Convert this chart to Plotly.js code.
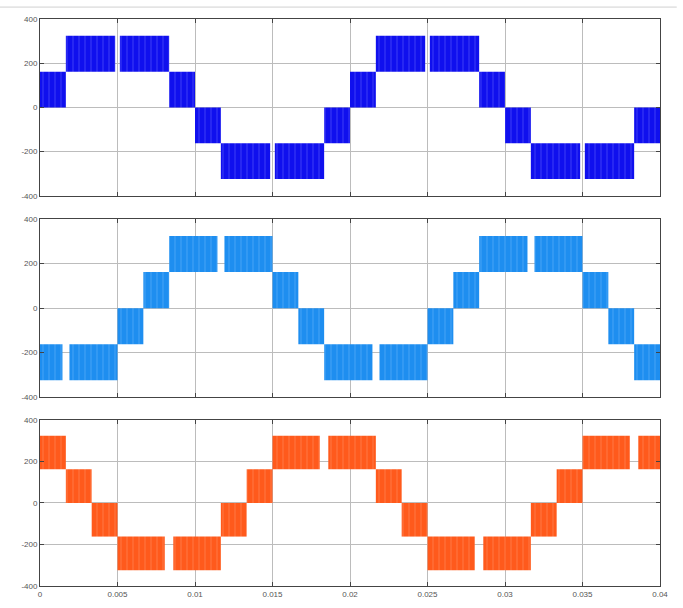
<!DOCTYPE html>
<html>
<head>
<meta charset="utf-8">
<script src="https://cdn.plot.ly/plotly-3.0.1.min.js"></script>
<style>html,body{margin:0;padding:0;background:#fff;}#chart{width:683px;height:608px;}</style>
</head>
<body>
<div id="chart"></div>
<script>
// Band segments of the PWM staircase waveforms (time in seconds, voltage levels)
var phaseA_start = [0, 0.001667, 0.00515, 0.008333, 0.01, 0.011667, 0.01515, 0.018333, 0.02, 0.021667, 0.02515, 0.028333, 0.03, 0.031667, 0.03515, 0.038333];
var phaseA_end   = [0.001667, 0.00485, 0.008333, 0.01, 0.011667, 0.01485, 0.018333, 0.02, 0.021667, 0.02485, 0.028333, 0.03, 0.031667, 0.03485, 0.038333, 0.04];
var phaseA_low   = [0, 162, 162, 0, -162, -324, -324, -162, 0, 162, 162, 0, -162, -324, -324, -162];
var phaseA_high  = [162, 324, 324, 162, 0, -162, -162, 0, 162, 324, 324, 162, 0, -162, -162, 0];

var phaseB_start = [0, 0.0019, 0.005, 0.006667, 0.008333, 0.0119, 0.015, 0.016667, 0.018333, 0.0219, 0.025, 0.026667, 0.028333, 0.0319, 0.035, 0.036667, 0.038333];
var phaseB_end   = [0.00145, 0.005, 0.006667, 0.008333, 0.01145, 0.015, 0.016667, 0.018333, 0.02145, 0.025, 0.026667, 0.028333, 0.03145, 0.035, 0.036667, 0.038333, 0.04];
var phaseB_low   = [-324, -324, -162, 0, 162, 162, 0, -162, -324, -324, -162, 0, 162, 162, 0, -162, -324];
var phaseB_high  = [-162, -162, 0, 162, 324, 324, 162, 0, -162, -162, 0, 162, 324, 324, 162, 0, -162];

var phaseC_start = [0, 0.001667, 0.003333, 0.005, 0.0086, 0.011667, 0.013333, 0.015, 0.0186, 0.021667, 0.023333, 0.025, 0.0286, 0.031667, 0.033333, 0.035, 0.0386];
var phaseC_end   = [0.001667, 0.003333, 0.005, 0.00805, 0.011667, 0.013333, 0.015, 0.01805, 0.021667, 0.023333, 0.025, 0.02805, 0.031667, 0.033333, 0.035, 0.03805, 0.04];
var phaseC_low   = [162, 0, -162, -324, -324, -162, 0, 162, 162, 0, -162, -324, -324, -162, 0, 162, 162];
var phaseC_high  = [324, 162, 0, -162, -162, 0, 162, 324, 324, 162, 0, -162, -162, 0, 162, 324, 324];

var yTicks = [-400, -200, 0, 200, 400];
var xTicks = [0, 0.005, 0.01, 0.015, 0.02, 0.025, 0.03, 0.035, 0.04];
var xTickLabels = ['0', '0.005', '0.01', '0.015', '0.02', '0.025', '0.03', '0.035', '0.04'];

function bandTrace(st, en, lo, hi, color, stripe, xax, yax) {
  var x = [], w = [], b = [], h = [];
  for (var i = 0; i < st.length; i++) {
    x.push((st[i] + en[i]) / 2);
    w.push(en[i] - st[i]);
    b.push(lo[i]);
    h.push(hi[i] - lo[i]);
  }
  return {
    type: 'bar', x: x, y: h, base: b, width: w,
    xaxis: xax, yaxis: yax,
    marker: {color: color, line: {width: 0},
             pattern: {shape: '|', bgcolor: color, fgcolor: stripe, fillmode: 'replace',
                       size: 6, solidity: 0.2, fgopacity: 0.35}},
    hoverinfo: 'skip', showlegend: false
  };
}

var data = [
  bandTrace(phaseA_start, phaseA_end, phaseA_low, phaseA_high, '#1010ee', '#7a7aff', 'x2', 'y'),
  bandTrace(phaseB_start, phaseB_end, phaseB_low, phaseB_high, '#1e8ef0', '#7cc2ff', 'x3', 'y2'),
  bandTrace(phaseC_start, phaseC_end, phaseC_low, phaseC_high, '#ff5a1c', '#ffa07a', 'x', 'y3')
];

var tickFont = {family: 'Liberation Sans, Arial, sans-serif', size: 8, color: '#555'};
function yAxis(domain, anchorX) {
  return {
    domain: domain, range: [-400, 400], tickvals: yTicks, ticktext: yTicks.map(String),
    ticks: 'inside', ticklen: 4, tickcolor: '#444', showline: true, mirror: 'ticks',
    linecolor: '#444', linewidth: 1, showgrid: true, gridcolor: '#bcbcbc', gridwidth: 1,
    zeroline: false, tickfont: tickFont, anchor: anchorX, fixedrange: true
  };
}
function xAxis(showLabels) {
  return {
    domain: [0, 1], range: [0, 0.04], tickvals: xTicks, ticktext: xTickLabels,
    ticks: 'inside', ticklen: 4, tickcolor: '#444', showline: true, mirror: 'ticks',
    linecolor: '#444', linewidth: 1, showgrid: true, gridcolor: '#bcbcbc', gridwidth: 1,
    zeroline: false, tickfont: tickFont, showticklabels: showLabels, fixedrange: true
  };
}

var layout = {
  width: 683, height: 608,
  margin: {l: 40, r: 23, t: 19, b: 22},
  paper_bgcolor: '#fff', plot_bgcolor: '#fff',
  barmode: 'overlay', showlegend: false,
  xaxis: Object.assign(xAxis(true), {anchor: 'y3'}),
  xaxis2: Object.assign(xAxis(false), {anchor: 'y'}),
  xaxis3: Object.assign(xAxis(false), {anchor: 'y2'}),
  yaxis: yAxis([0.688, 1], 'x2'),
  yaxis2: yAxis([0.333, 0.647], 'x3'),
  yaxis3: yAxis([0, 0.293], 'x'),
  shapes: [
    {type: 'line', xref: 'paper', yref: 'paper', x0: -0.0645, x1: 1.027, y0: 1.021, y1: 1.021,
     line: {color: '#d0d0d0', width: 1}}
  ]
};

Plotly.newPlot('chart', data, layout, {staticPlot: true, displayModeBar: false});
</script>
</body>
</html>
